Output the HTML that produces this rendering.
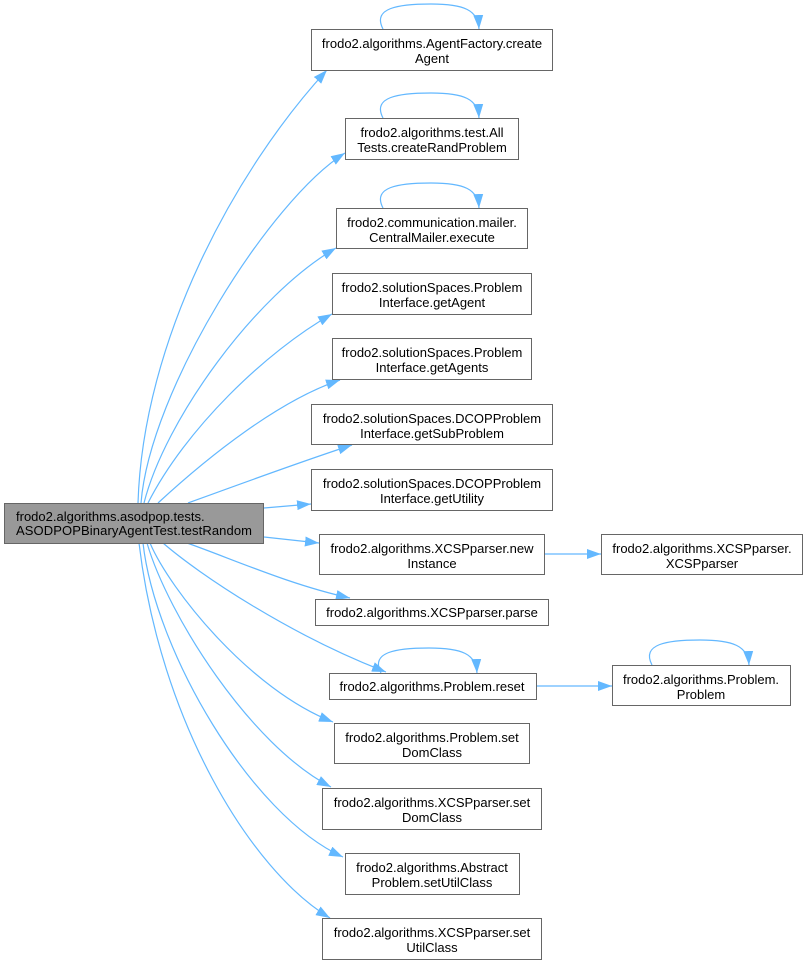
<!DOCTYPE html>
<html><head><meta charset="utf-8"><style>
html,body{margin:0;padding:0;background:#fff;}
svg{display:block;}
text{font-family:"Liberation Sans",Arial,sans-serif;font-size:13px;fill:#000;}
.b{fill:#fff;stroke:#666;stroke-width:1;}
.e{fill:none;stroke:#63b8ff;stroke-width:1.2;}
</style></head><body>
<svg width="808" height="965" viewBox="0 0 808 965" xmlns="http://www.w3.org/2000/svg">
<defs>
<marker id="a" markerUnits="userSpaceOnUse" viewBox="0 0 14 10" refX="14" refY="5" markerWidth="14" markerHeight="10" orient="auto">
<path d="M0,0 L14,5 L0,10 z" fill="#63b8ff"/>
</marker>
</defs>

<!-- edges -->
<path class="e" marker-end="url(#a)" d="M138,503 C143,340 235,170 327,70"/>
<path class="e" marker-end="url(#a)" d="M141,503 C150,390 270,200 345,153"/>
<path class="e" marker-end="url(#a)" d="M144,503 C165,420 255,295 336,248"/>
<path class="e" marker-end="url(#a)" d="M148,503 C185,430 265,352 332,314"/>
<path class="e" marker-end="url(#a)" d="M158,503 C210,455 280,400 340,380"/>
<path class="e" marker-end="url(#a)" d="M188,503 C240,484 300,462 352,445"/>
<path class="e" marker-end="url(#a)" d="M264,508 L311,504"/>
<path class="e" marker-end="url(#a)" d="M264,537 L319,543"/>
<path class="e" marker-end="url(#a)" d="M187,543 C230,558 290,585 350,598"/>
<path class="e" marker-end="url(#a)" d="M163,543 C200,575 290,635 386,672"/>
<path class="e" marker-end="url(#a)" d="M150,543 C170,590 250,690 333,722"/>
<path class="e" marker-end="url(#a)" d="M147,543 C168,615 250,745 331,787"/>
<path class="e" marker-end="url(#a)" d="M143,543 C155,650 250,815 343,857"/>
<path class="e" marker-end="url(#a)" d="M139,543 C160,720 250,870 330,918"/>
<path class="e" marker-end="url(#a)" d="M545,554 L601,554"/>
<path class="e" marker-end="url(#a)" d="M536,686 L612,686"/>

<!-- self loops -->
<path class="e" marker-end="url(#a)" d="M383,29 C372,8 398,4 431,4 C464,4 478,10 479,29"/>
<path class="e" marker-end="url(#a)" d="M383,118 C372,97 398,93 431,93 C464,93 478,99 479,118"/>
<path class="e" marker-end="url(#a)" d="M383,208 C372,187 398,183 431,183 C464,183 478,189 479,208"/>
<path class="e" marker-end="url(#a)" d="M381,673 C370,652 396,648 429,648 C462,648 476,654 477,673"/>
<path class="e" marker-end="url(#a)" d="M652,665 C641,644 667,640 700,640 C733,640 748,646 749,665"/>

<!-- main node -->
<rect x="4.5" y="503.5" width="259" height="40" fill="#999999" stroke="#666" stroke-width="1"/>
<text x="16" y="521">frodo2.algorithms.asodpop.tests.</text>
<text x="16" y="535" textLength="236" lengthAdjust="spacing">ASODPOPBinaryAgentTest.testRandom</text>

<!-- nodes -->
<g text-anchor="middle">
<rect class="b" x="311.5" y="29.5" width="241" height="41"/>
<text x="432" y="48">frodo2.algorithms.AgentFactory.create</text>
<text x="432" y="63">Agent</text>

<rect class="b" x="345.5" y="118.5" width="173" height="41"/>
<text x="432" y="137">frodo2.algorithms.test.All</text>
<text x="432" y="152">Tests.createRandProblem</text>

<rect class="b" x="336.5" y="208.5" width="191" height="40"/>
<text x="432" y="227">frodo2.communication.mailer.</text>
<text x="432" y="242">CentralMailer.execute</text>

<rect class="b" x="332.5" y="273.5" width="199" height="41"/>
<text x="432" y="292">frodo2.solutionSpaces.Problem</text>
<text x="432" y="307">Interface.getAgent</text>

<rect class="b" x="332.5" y="338.5" width="199" height="41"/>
<text x="432" y="357">frodo2.solutionSpaces.Problem</text>
<text x="432" y="372">Interface.getAgents</text>

<rect class="b" x="311.5" y="404.5" width="241" height="40"/>
<text x="432" y="423">frodo2.solutionSpaces.DCOPProblem</text>
<text x="432" y="438">Interface.getSubProblem</text>

<rect class="b" x="311.5" y="469.5" width="241" height="41"/>
<text x="432" y="488">frodo2.solutionSpaces.DCOPProblem</text>
<text x="432" y="503">Interface.getUtility</text>

<rect class="b" x="319.5" y="534.5" width="225" height="40"/>
<text x="432" y="553">frodo2.algorithms.XCSPparser.new</text>
<text x="432" y="568">Instance</text>

<rect class="b" x="315.5" y="599.5" width="233" height="26"/>
<text x="432" y="617">frodo2.algorithms.XCSPparser.parse</text>

<rect class="b" x="329.5" y="673.5" width="207" height="26"/>
<text x="432" y="691">frodo2.algorithms.Problem.reset</text>

<rect class="b" x="334.5" y="723.5" width="195" height="40"/>
<text x="432" y="742">frodo2.algorithms.Problem.set</text>
<text x="432" y="757">DomClass</text>

<rect class="b" x="322.5" y="788.5" width="219" height="41"/>
<text x="432" y="807">frodo2.algorithms.XCSPparser.set</text>
<text x="432" y="822">DomClass</text>

<rect class="b" x="345.5" y="853.5" width="174" height="41"/>
<text x="432" y="872">frodo2.algorithms.Abstract</text>
<text x="432" y="887">Problem.setUtilClass</text>

<rect class="b" x="322.5" y="918.5" width="219" height="41"/>
<text x="432" y="937">frodo2.algorithms.XCSPparser.set</text>
<text x="432" y="952">UtilClass</text>

<rect class="b" x="601.5" y="534.5" width="201" height="40"/>
<text x="702" y="553">frodo2.algorithms.XCSPparser.</text>
<text x="702" y="568">XCSPparser</text>

<rect class="b" x="612.5" y="665.5" width="178" height="40"/>
<text x="701" y="684">frodo2.algorithms.Problem.</text>
<text x="701" y="699">Problem</text>
</g>
</svg>
</body></html>
